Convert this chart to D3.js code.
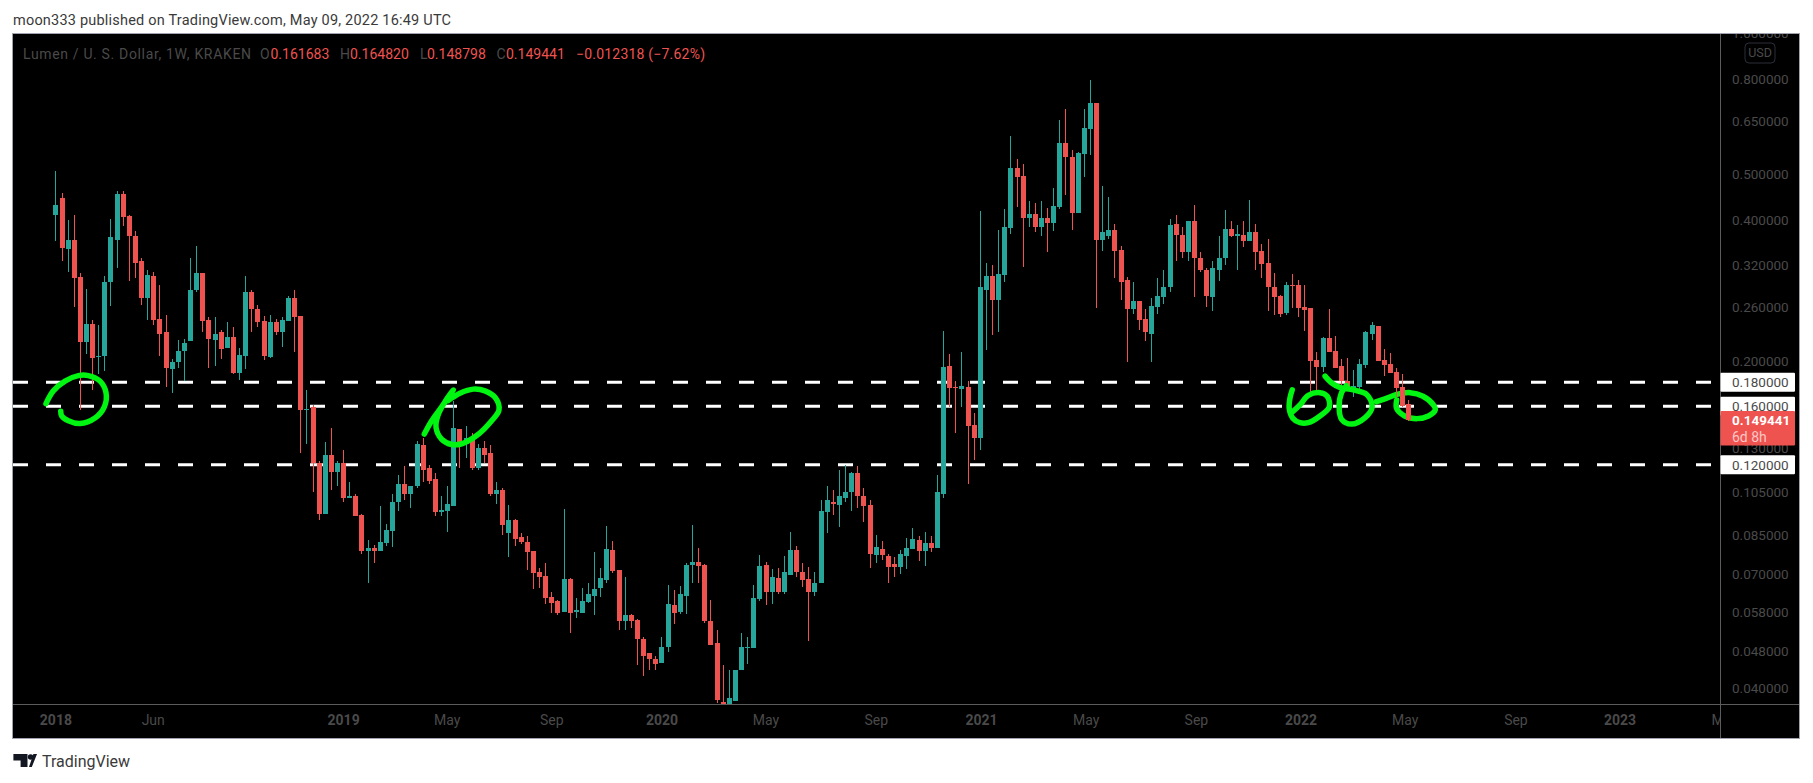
<!DOCTYPE html>
<html>
<head>
<meta charset="utf-8">
<script src="https://cdn.jsdelivr.net/npm/d3@7"></script>
<style>
html,body{margin:0;padding:0;background:#fff;overflow:hidden}
svg{display:block}
text{font-family:Roboto,"Liberation Sans",sans-serif}
</style>
</head>
<body>
<svg id="chart" width="1813" height="783"></svg>
<script>
const opens = [
.409,.446,.346,.363,.302,.219,.240,.204,.205,.295,
.363,.455,.408,.370,.327,.273,.303,.246,.230,.192,
.199,.210,.221,.283,.308,.244,.222,.230,.213,.225,
.188,.205,.281,.258,.243,.204,.242,.231,.243,.273,
.249,.157,.159,.121,.0943,.126,.116,.121,.102,.103,
.0939,.0786,.0798,.0786,.0818,.0868,.100,.109,.104,.108,
.132,.118,.112,.0953,.0957,.0981,.143,.133,.137,.118,
.130,.127,.104,.106,.0859,.0912,.0842,.0822,.0786,.0709,
.0695,.0627,.0615,.0582,.0685,.0582,.0579,.0612,.0630,.0655,
.0682,.0790,.0716,.0555,.0574,.0560,.0510,.0476,.0462,.0453,
.0490,.0603,.0582,.0630,.0734,.0745,.0734,.0557,.0500,.0374,
.0356,.0376,.0436,.0488,.0488,.0621,.0734,.0643,.0688,.0640,
.0698,.0790,.0709,.0685,.0643,.0672,.0953,.100,.0986,.102,
.105,.115,.103,.0986,.0771,.0793,.0767,.0737,.0726,.0767,
.0793,.0830,.0786,.0818,.0798,.104,.195,.176,.174,.176,
.146,.137,.284,.303,.270,.305,.385,.517,.497,.404,
.412,.387,.404,.394,.427,.584,.546,.414,.553,.626,
.711,.363,.370,.381,.345,.298,.258,.268,.246,.228,
.261,.274,.287,.392,.372,.342,.398,.332,.313,.274,
.313,.331,.383,.370,.372,.361,.377,.343,.324,.287,
.275,.253,.291,.291,.261,.259,.201,.194,.224,.210,
.195,.181,.173,.176,.196,.228,.237,.201,.197,.189,
.176,.161683]
const closes = [
.431,.349,.363,.301,.219,.240,.203,.205,.295,.367,
.455,.406,.369,.324,.273,.305,.245,.228,.193,.199,
.210,.218,.284,.308,.243,.223,.228,.212,.225,.188,
.206,.281,.258,.242,.205,.242,.231,.244,.273,.248,
.157,.158,.121,.0943,.126,.116,.121,.102,.103,.0934,
.0786,.0798,.0786,.0822,.0872,.100,.109,.104,.108,.133,
.117,.111,.0953,.0962,.0988,.144,.134,.137,.118,.130,
.126,.104,.106,.0893,.0912,.0834,.0822,.0782,.0705,.0692,
.0624,.0609,.0579,.0685,.0579,.0588,.0615,.0636,.0652,.0688,
.0793,.0712,.0555,.0574,.0557,.0508,.0469,.0462,.0451,.0490,
.0606,.0579,.0636,.0734,.0745,.0730,.0557,.0495,.0378,.0368,
.0380,.0438,.0490,.0490,.0624,.0730,.0643,.0692,.0640,.0709,
.0790,.0709,.0682,.0640,.0672,.0957,.101,.0991,.103,.105,
.115,.103,.0981,.0774,.0802,.0771,.0726,.0726,.0774,.0798,
.0834,.0786,.0818,.0798,.105,.194,.175,.175,.177,.145,
.137,.287,.303,.270,.306,.387,.517,.494,.404,.412,
.387,.404,.394,.429,.584,.544,.414,.556,.629,.711,
.363,.376,.381,.343,.295,.258,.269,.245,.230,.262,
.275,.288,.390,.372,.342,.398,.331,.312,.275,.315,
.331,.383,.370,.374,.361,.377,.342,.322,.287,.274,
.252,.291,.290,.259,.257,.200,.194,.224,.209,.193,
.181,.172,.177,.197,.230,.238,.200,.196,.188,.175,
.160,.149441]
const highs = [
.510,.457,.400,.410,.308,.285,.245,.238,.303,.402,
.462,.460,.410,.379,.331,.312,.310,.291,.250,.202,
.222,.223,.331,.352,.308,.248,.248,.233,.242,.236,
.213,.303,.284,.263,.249,.250,.246,.248,.275,.283,
.249,.173,.161,.122,.134,.144,.122,.129,.110,.104,
.0943,.083,.0810,.0981,.0898,.104,.114,.119,.108,.135,
.137,.120,.115,.103,.108,.164,.143,.145,.140,.133,
.135,.132,.110,.107,.0986,.0920,.0859,.0846,.0786,.0723,
.0741,.0643,.0618,.0967,.0688,.0624,.0655,.0669,.0782,.0723,
.0889,.0826,.0716,.0692,.0576,.0563,.0513,.0476,.0469,.0513,
.0665,.0649,.0662,.0741,.0893,.0798,.0737,.0618,.0533,.0447,
.0436,.0438,.0525,.0513,.0665,.0771,.0745,.0719,.0723,.0767,
.0863,.0806,.0741,.0726,.0709,.101,.108,.106,.117,.120,
.116,.119,.107,.101,.0851,.0826,.0774,.0763,.0790,.0838,
.0880,.0846,.0863,.0846,.114,.232,.207,.181,.209,.181,
.155,.418,.324,.321,.381,.423,.605,.541,.527,.438,
.435,.438,.425,.469,.654,.690,.565,.559,.690,.796,
.711,.472,.448,.392,.352,.302,.294,.268,.258,.273,
.301,.313,.402,.410,.387,.398,.431,.342,.315,.327,
.370,.421,.398,.390,.398,.442,.392,.356,.365,.308,
.277,.295,.307,.298,.291,.259,.209,.225,.258,.226,
.202,.203,.191,.202,.232,.242,.237,.212,.208,.193,
.187,.16482]
const lows = [
.360,.327,.310,.261,.157,.207,.173,.187,.190,.262,
.315,.389,.296,.300,.263,.245,.238,.205,.176,.171,
.193,.181,.220,.281,.231,.193,.195,.202,.213,.187,
.182,.192,.230,.236,.201,.203,.227,.214,.243,.209,
.127,.133,.105,.0912,.0943,.106,.108,.100,.102,.0930,
.0774,.0669,.0741,.0786,.0806,.0802,.0957,.101,.0972,.107,
.110,.109,.0934,.0934,.0863,.0981,.118,.124,.117,.117,
.121,.103,.0991,.0851,.0763,.0806,.0814,.0716,.0652,.0655,
.0606,.0579,.0574,.0582,.0525,.0565,.0579,.0609,.0574,.0627,
.0669,.0705,.0533,.0533,.0538,.0447,.0424,.0438,.0436,.0453,
.0478,.0549,.0576,.0576,.0672,.0672,.0552,.0495,.0371,.0355,
.0355,.0376,.0436,.0451,.0488,.0615,.0603,.0606,.0636,.0636,
.0698,.0692,.0659,.0503,.0630,.0669,.0859,.0939,.0884,.100,
.0957,.0972,.0907,.0723,.0741,.0752,.0669,.0692,.0702,.0719,
.0793,.0748,.0730,.0782,.0798,.102,.159,.140,.159,.109,
.123,.129,.211,.227,.231,.294,.374,.427,.318,.387,
.376,.369,.342,.379,.423,.453,.381,.414,.494,.550,
.259,.343,.365,.300,.270,.199,.252,.233,.220,.199,
.252,.264,.281,.326,.331,.327,.274,.310,.261,.256,
.296,.321,.367,.313,.350,.361,.313,.301,.255,.250,
.248,.251,.259,.248,.232,.169,.173,.189,.209,.193,
.160,.172,.167,.174,.193,.222,.200,.186,.188,.167,
.159,.148798]

const priceTicks = [1,.8,.65,.5,.4,.32,.26,.2,.13,.105,.085,.07,.058,.048,.04]
const levelPrices = [.18,.16,.12]
const lastPrice = .149441
const timeTickBars = [0,15.9,47,63.9,81,99,116,134,151.2,168.3,186.3,203.4,220.4,238.5,255.5,272.6]
const timeTickLabels = ["2018","Jun","2019","May","Sep","2020","May","Sep","2021","May","Sep","2022","May","Sep","2023","May"]

// hand drawn green marks, [bar index, price]
const strokeLeft = [[-1.54,.162],[-.34,.1725],[1.57,.181],[3.74,.186],[5.37,.186],[7.29,.181],[8.27,.171],[7.99,.1595],[6.47,.151],[4.02,.147],[2.11,.149],[1.03,.1525],[.87,.156]]
const strokeMid = [[60.26,.1395],[61.47,.149],[63.1,.1595],[65,.1733],[63.65,.1636],[62.46,.1525],[62.18,.144],[63.1,.136],[64.74,.1325],[66.37,.133],[68.82,.1385],[71.27,.149],[72.46,.157],[71.92,.1665],[70.17,.1725],[68.26,.174],[66.09,.1705],[64.17,.1645]]
const strokeRightA = [[202.04,.1733],[201.67,.1665],[201.55,.158],[202.1,.151],[203.3,.1475],[204.66,.1475],[206.57,.1525],[208.1,.1595],[207.76,.168],[206.57,.171],[204.66,.1687],[203.3,.161],[202.2,.156]]
const strokeRightB = [[207.4,.1855],[208.5,.1793],[209.8,.1755],[212,.1733],[214.2,.1695],[215.1,.1595],[213.9,.151],[211.7,.1465],[210.1,.15],[209.7,.1595],[210.1,.171],[210.9,.177]]
const strokeRightC = [[215.8,.1636],[217.5,.1665],[219.1,.1695],[221.3,.171],[223.4,.168],[225.1,.161],[225.4,.157],[224.3,.1525],[222.4,.1505],[220.4,.1525],[219.1,.158],[219.1,.165]]

const up = "#26a69a", down = "#ef5350", green = "#00f510", dim = "#4a4a4a"
const left = 13, top_ = 34, right = 1720, outer = 1799, plotBottom = 704, bottom = 738

const bars = d3.range(opens.length).map(i => ({i:i, o:opens[i], h:highs[i], l:lows[i], c:closes[i]}))
const x = d3.scaleLinear().domain([0,bars.length-1]).range([55.4,1408.3])
const y = d3.scaleLog().domain([.8,.04]).range([79,688])

const svg = d3.select("#chart")
svg.append("rect").attr("width",1813).attr("height",783).attr("fill","#fff")
svg.append("text").attr("x",13).attr("y",25).attr("font-size",14.5).attr("fill","#3a3a3a")
.attr("textLength",438).attr("lengthAdjust","spacing")
.text("moon333 published on TradingView.com, May 09, 2022 16:49 UTC")

svg.append("rect").attr("x",left-.5).attr("y",top_-.5).attr("width",outer-left+1).attr("height",bottom-top_+1)
.attr("fill","#000").attr("stroke","#a0a3ad").attr("stroke-width",1).attr("shape-rendering","crispEdges")

const defs = svg.append("defs")
defs.append("clipPath").attr("id","plotclip").append("rect").attr("x",left).attr("y",top_).attr("width",right-left).attr("height",plotBottom-top_)

const plot = svg.append("g").attr("clip-path","url(#plotclip)")

plot.selectAll(".level").data(levelPrices).join("line").attr("class","level")
.attr("x1",left).attr("x2",right)
.attr("y1",d => y(d)).attr("y2",d => y(d))
.attr("stroke","#fff").attr("stroke-width",3).attr("stroke-dasharray","15 18")

const strokeLine = d3.line().x(d => x(d[0])).y(d => y(d[1])).curve(d3.curveCatmullRom.alpha(.5))
function drawStrokes(list){
    plot.append("g").selectAll("path").data(list).join("path")
    .attr("d",strokeLine).attr("fill","none").attr("stroke",green)
    .attr("stroke-width",5.5).attr("stroke-linecap","round").attr("stroke-linejoin","round")
}
drawStrokes([strokeRightC])

const candles = plot.append("g").attr("shape-rendering","crispEdges")
candles.selectAll(".wick").data(bars).join("line").attr("class","wick")
.attr("x1",d => Math.round(x(d.i))+.5).attr("x2",d => Math.round(x(d.i))+.5)
.attr("y1",d => y(d.h)).attr("y2",d => y(d.l))
.attr("stroke",d => d.c >= d.o ? up : down).attr("stroke-width",1)
candles.selectAll(".body").data(bars).join("rect").attr("class","body")
.attr("x",d => Math.round(x(d.i))-2).attr("width",5)
.attr("y",d => y(Math.max(d.o,d.c)))
.attr("height",d => Math.max(1,Math.abs(y(d.o)-y(d.c))))
.attr("fill",d => d.c >= d.o ? up : down)

drawStrokes([strokeLeft,strokeMid,strokeRightA,strokeRightB])

// price scale
const yAxis = d3.axisRight(y).tickValues(priceTicks).tickFormat(d3.format(".6f")).tickSize(0).tickPadding(12)
const yG = svg.append("g").attr("transform",`translate(${right},0)`).call(yAxis)
yG.select(".domain").remove()
yG.selectAll("text").attr("font-size",13.5).attr("fill",dim).attr("font-family",null)

// time scale
const xAxis = d3.axisBottom(x).tickValues(timeTickBars).tickFormat((d,i) => timeTickLabels[i]).tickSize(0).tickPadding(11)
const xG = svg.append("g").attr("transform",`translate(0,${plotBottom})`).call(xAxis)
xG.select(".domain").remove()
xG.selectAll("text").attr("font-size",14).attr("fill",dim).attr("font-family",null)
.attr("font-weight",(d,i) => /^\d/.test(timeTickLabels[i]) ? 700 : 400)

// cover what pokes out of the panes
svg.append("rect").attr("x",right+1).attr("y",0).attr("width",outer-right-1).attr("height",top_-1).attr("fill","#fff")
svg.append("rect").attr("x",left).attr("y",top_-1).attr("width",outer-left).attr("height",1).attr("fill","#a0a3ad")
svg.append("rect").attr("x",right+1).attr("y",plotBottom+1).attr("width",outer-right-1).attr("height",bottom-plotBottom-1).attr("fill","#000")

svg.append("line").attr("x1",left).attr("x2",outer).attr("y1",plotBottom+.5).attr("y2",plotBottom+.5).attr("stroke","#5c5c5c").attr("shape-rendering","crispEdges")
svg.append("line").attr("x1",right+.5).attr("x2",right+.5).attr("y1",top_).attr("y2",bottom).attr("stroke","#5c5c5c").attr("shape-rendering","crispEdges")

svg.append("rect").attr("x",1745).attr("y",43).attr("width",30).attr("height",20).attr("rx",4)
.attr("fill","none").attr("stroke","#2a2e39")
svg.append("text").attr("x",1760).attr("y",57).attr("text-anchor","middle").attr("font-size",12.5).attr("fill",dim).text("USD")

// price labels
const levelLabels = svg.append("g").selectAll("g").data(levelPrices).join("g")
levelLabels.append("rect").attr("x",right+.5).attr("y",d => y(d)-9.5).attr("width",74.5).attr("height",19).attr("rx",1).attr("fill","#fff")
levelLabels.append("text").attr("x",1732).attr("y",d => y(d)+5).attr("font-size",13.5).attr("fill","#4a4a4a").text(d3.format(".6f"))

const py = y(lastPrice)
svg.append("rect").attr("x",right+.5).attr("y",py-9).attr("width",74.5).attr("height",34.5).attr("rx",1).attr("fill",down)
svg.append("text").attr("x",1732).attr("y",py+4.5).attr("font-size",13.5).attr("font-weight",700).attr("fill","#fff").text(d3.format(".6f")(lastPrice))
svg.append("text").attr("x",1732).attr("y",py+21.5).attr("font-size",14).attr("fill","#fbc6c4").text("6d 8h")

// legend
const legend = [
["Lumen / U. S. Dollar, 1W, KRAKEN",23,dim,228],
["O",260,dim],["0.161683",270.5,down],
["H",340,dim],["0.164820",350,down],
["L",420,dim],["0.148798",427,down],
["C",496.5,dim],["0.149441",506,down],
["−0.012318 (−7.62%)",576,down,129]]
const legendTexts = svg.append("g").selectAll("text").data(legend).join("text")
.attr("x",d => d[1]).attr("y",59).attr("font-size",14).attr("fill",d => d[2]).text(d => d[0])
legendTexts.filter(d => d[3]).attr("textLength",d => d[3]).attr("lengthAdjust","spacing")

// footer
const logo = svg.append("g").attr("fill","#131722")
logo.append("path").attr("d","M13.4 754H27.5V767H20.6V760.6H13.4Z")
logo.append("circle").attr("cx",30.6).attr("cy",757).attr("r",2.8)
logo.append("path").attr("d","M29 767L33.4 754H37L31.8 767Z")
svg.append("text").attr("x",42).attr("y",767).attr("font-size",16).attr("fill","#3a3a3a").text("TradingView")
</script>
</body>
</html>
